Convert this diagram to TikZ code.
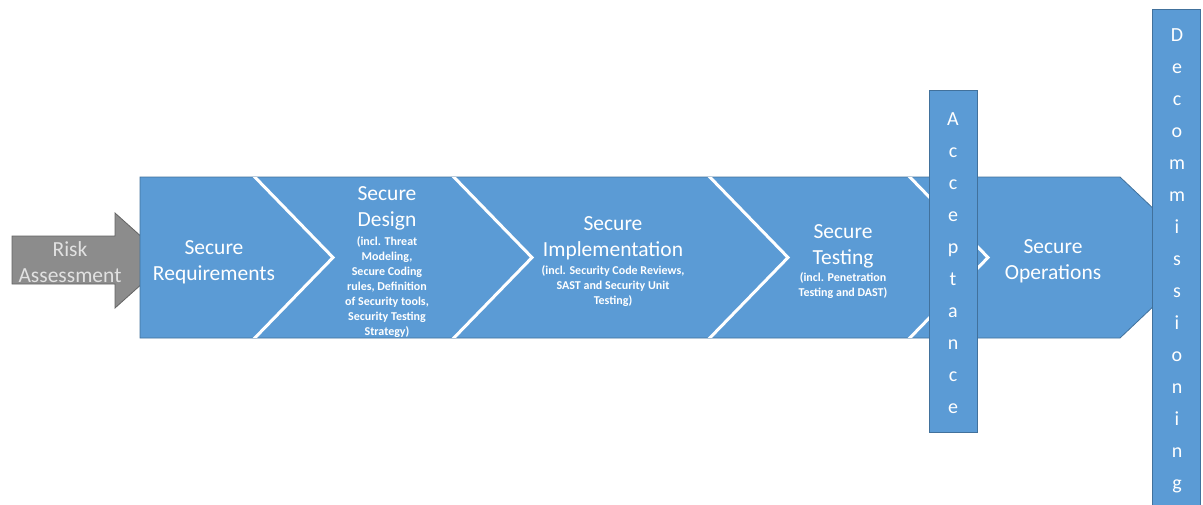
\documentclass[tikz,border=0pt]{standalone}
\usepackage{fontspec}
\setmainfont{Carlito}
\definecolor{bandblue}{RGB}{91,155,213}
\definecolor{bandedge}{RGB}{65,113,156}
\definecolor{arrowgray}{RGB}{140,140,140}
\definecolor{arrowedge}{RGB}{100,100,100}
\definecolor{risktext}{RGB}{225,225,225}
\tikzset{
  mainlabel/.style={text=white, align=center, font=\fontsize{21.5}{26}\selectfont, inner sep=0pt},
  sublabel/.style={text=white, align=center, font=\bfseries\fontsize{12}{15}\selectfont, inner sep=0pt},
  letter/.style={text=white, anchor=base, font=\fontsize{20}{24}\selectfont, inner sep=0pt},
  gap/.style={draw=white, line width=3pt},
  vbar/.style={fill=bandblue, draw=bandedge, line width=0.8pt},
}
\begin{document}
\begin{tikzpicture}[x=1pt,y=-1pt]
\useasboundingbox (0,0) rectangle (1203,504);
% risk assessment arrow
\draw[fill=arrowgray, draw=arrowedge, line width=0.8pt]
  (12,236) -- (115,236) -- (115,213) -- (168,260.5) -- (115,308) -- (115,284) -- (12,284) -- cycle;
\node[mainlabel, text=risktext] (risk) at (70,262) {Risk\\Assessment};
% main band
\path[fill=bandblue, draw=bandedge, line width=0.8pt]
  (140,177) -- (1120,177) -- (1195,248) -- (1195,267) -- (1120,338) -- (140,338) -- cycle;
\begin{scope}
  \clip (140,177.6) rectangle (1210,337.4);
  \foreach \t in {248,447,703,903} {
    \draw[gap] (\t,170) -- (\t+85,257.5) -- (\t,345);
  }
\end{scope}
% labels
\node[mainlabel] (req) at (214,262) {Secure\\Requirements};
\node[mainlabel] (design) at (387,208) {Secure\\Design};
\node[sublabel] (designsub) at (387,287) {(incl. Threat\\Modeling,\\Secure Coding\\rules, Definition\\of Security tools,\\Security Testing\\Strategy)};
\node[mainlabel] (impl) at (613,238) {Secure\\Implementation};
\node[sublabel] (implsub) at (613,286) {(incl. Security Code Reviews,\\SAST and Security Unit\\Testing)};
\node[mainlabel] (test) at (843,246) {Secure\\Testing};
\node[sublabel] (testsub) at (843,286) {(incl. Penetration\\Testing and DAST)};
\node[mainlabel] (ops) at (1053,261) {Secure\\Operations};
% acceptance bar
\path[vbar] (929,90) rectangle (977,432);
\foreach \l [count=\i from 0] in {A,c,c,e,p,t,a,n,c,e}
  \node[letter] (acc\i) at (953,125+32*\i) {\l};
% decommissioning bar
\path[vbar] (1152,9) rectangle (1200,520);
\foreach \l [count=\i from 0] in {D,e,c,o,m,m,i,s,s,i,o,n,i,n,g}
  \node[letter] (dec\i) at (1177,41.5+32*\i) {\l};
\end{tikzpicture}
\end{document}
